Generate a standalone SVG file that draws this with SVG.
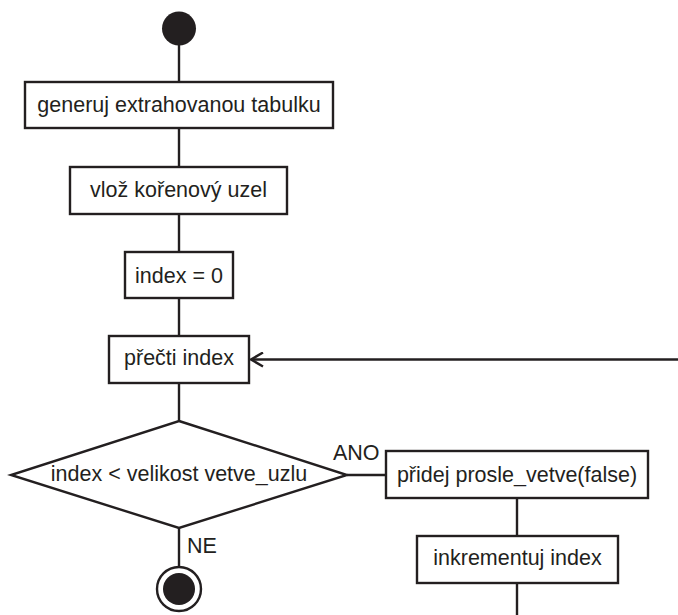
<svg xmlns="http://www.w3.org/2000/svg" width="678" height="615" viewBox="0 0 678 615">
  <style>
    .box { fill: #ffffff; stroke: #231f20; stroke-width: 2.4; }
    .edge { fill: none; stroke: #231f20; stroke-width: 2.4; }
    .lbl { font-family: "Liberation Sans", Arial, sans-serif; font-size: 21.5px; fill: #231f20; }
    .mid { text-anchor: middle; }
  </style>
  <defs>
    <marker id="open" viewBox="0 0 15 16" refX="13" refY="8" markerWidth="15" markerHeight="16" markerUnits="userSpaceOnUse" orient="auto">
      <path d="M1,1 L13,8 L1,15" fill="none" stroke="#231f20" stroke-width="2.4"/>
    </marker>
  </defs>

  <!-- connectors -->
  <g id="connectors">
    <line class="edge" x1="179" y1="44" x2="179" y2="82"/>
    <line class="edge" x1="179" y1="128" x2="179" y2="167"/>
    <line class="edge" x1="179" y1="214" x2="179" y2="252"/>
    <line class="edge" x1="179" y1="298" x2="179" y2="336"/>
    <line class="edge" x1="179" y1="383" x2="179" y2="421"/>
    <line class="edge" x1="179" y1="528" x2="179" y2="566"/>
    <line class="edge" x1="347" y1="475" x2="386" y2="475"/>
    <line class="edge" x1="517" y1="498" x2="517" y2="536"/>
    <line class="edge" x1="517" y1="583" x2="517" y2="615"/>
    <line class="edge" x1="678" y1="359.5" x2="251" y2="359.5" marker-end="url(#open)"/>
    <text class="lbl" x="333" y="460">ANO</text>
    <text class="lbl" x="187" y="553">NE</text>
  </g>

  <g id="start">
    <circle cx="179" cy="28.5" r="17" fill="#231f20"/>
  </g>

  <g id="generuj">
    <rect class="box" x="25" y="82" width="308" height="46"/>
    <text class="lbl mid" x="179" y="112">generuj extrahovanou tabulku</text>
  </g>

  <g id="vloz">
    <rect class="box" x="70" y="167" width="217" height="47"/>
    <text class="lbl mid" x="178.5" y="196.5">vlož kořenový uzel</text>
  </g>

  <g id="index0">
    <rect class="box" x="125" y="252" width="108" height="46"/>
    <text class="lbl mid" x="179" y="283">index = 0</text>
  </g>

  <g id="precti">
    <rect class="box" x="109" y="336" width="140" height="47"/>
    <text class="lbl mid" x="179" y="365">přečti index</text>
  </g>

  <g id="decision">
    <polygon class="box" points="179,421 347,475 179,528 11,475"/>
    <text class="lbl mid" x="179" y="481">index &lt; velikost vetve_uzlu</text>
  </g>

  <g id="pridej">
    <rect class="box" x="386" y="451" width="262" height="47"/>
    <text class="lbl mid" x="517" y="481.5">přidej prosle_vetve(false)</text>
  </g>

  <g id="inkrementuj">
    <rect class="box" x="417" y="536" width="201" height="47"/>
    <text class="lbl mid" x="517.5" y="565">inkrementuj index</text>
  </g>

  <g id="end">
    <circle cx="179" cy="589" r="22" fill="#ffffff" stroke="#231f20" stroke-width="2.4"/>
    <circle cx="179" cy="589" r="16" fill="#231f20"/>
  </g>
</svg>
